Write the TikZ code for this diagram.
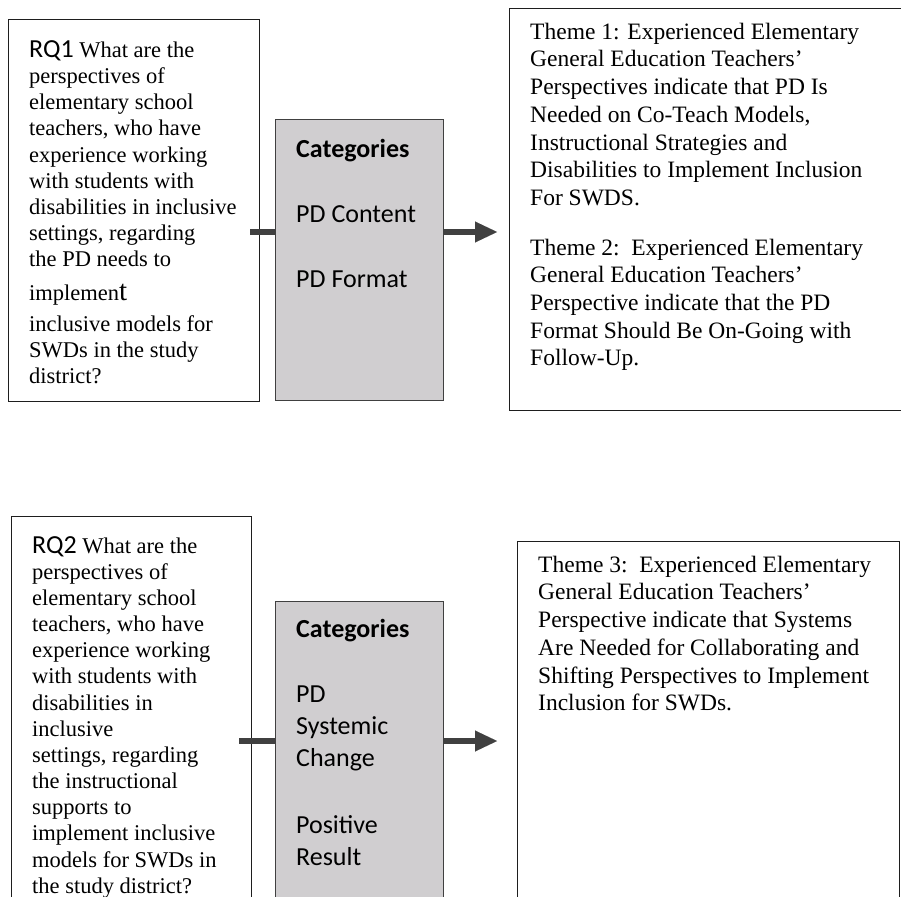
\documentclass[tikz,border=0pt]{standalone}
\usepackage{fontspec}
\setmainfont{Liberation Serif}
\newfontfamily\calib{Carlito}
\usetikzlibrary{arrows.meta}
\definecolor{catfill}{RGB}{208,206,208}
\definecolor{arrowgray}{RGB}{64,64,64}
\definecolor{boxline}{RGB}{30,30,30}
\begin{document}
\begin{tikzpicture}[x=1pt,y=-1pt,
  qbox/.style={draw=boxline, line width=1pt, fill=white, anchor=north west, inner sep=0pt},
  catbox/.style={draw=black!75, line width=1pt, fill=catfill, anchor=north west, inner sep=0pt},
  rqtext/.style={anchor=north west, inner sep=0pt, align=left, font=\fontsize{22.5}{26.2}\selectfont},
  thtext/.style={anchor=north west, inner sep=0pt, align=left, font=\fontsize{23.5}{27.7}\selectfont},
  cattext/.style={anchor=north west, inner sep=0pt, align=left, font=\calib\fontsize{26}{32}\selectfont},
  conn/.style={draw=arrowgray, line width=6.5pt},
  arr/.style={conn, -{Triangle[length=22pt,width=21pt,line width=0.01pt]}}
]
\useasboundingbox (0,0) rectangle (901,896);
\clip (0,0) rectangle (901,896);

% boxes
\node[qbox, minimum width=251pt, minimum height=382pt] (rq1) at (8,19) {};
\node[catbox, minimum width=168pt, minimum height=281pt] (cat1) at (275,119) {};
\node[qbox, minimum width=420pt, minimum height=402pt] (th1) at (509,8) {};
\node[qbox, minimum width=240pt, minimum height=420pt] (rq2) at (11,516) {};
\node[catbox, minimum width=168pt, minimum height=340pt] (cat2) at (275,601) {};
\node[qbox, minimum width=382pt, minimum height=400pt] (th3) at (517,541) {};

% texts
\node[rqtext] (rq1t) at (29,37) {\rule{0pt}{20pt}{\calib\fontsize{26}{26}\selectfont RQ1} What are the\\
perspectives of\\
elementary school\\
teachers, who have\\
experience working\\
with students with\\
disabilities in inclusive\\
settings, regarding\\
the PD needs to\\[7pt]
implemen{\fontsize{29}{29}\selectfont t}\\[5pt]
inclusive models for\\
SWDs in the study\\
district?};

\node[cattext] (cat1t) at (296,135) {\rule{0pt}{22pt}\textbf{Categories}\\[33pt]
PD Content\\[33pt]
PD Format};

\node[thtext] (th1t) at (530,18) {\rule{0pt}{21pt}Theme 1: Experienced Elementary\\
General Education Teachers’\\
Perspectives indicate that PD Is\\
Needed on Co-Teach Models,\\
Instructional Strategies and\\
Disabilities to Implement Inclusion\\
For SWDS.\\[22pt]
Theme 2:\ \ Experienced Elementary\\
General Education Teachers’\\
Perspective indicate that the PD\\
Format Should Be On-Going with\\
Follow-Up.};

\node[rqtext, font=\fontsize{22.5}{26.15}\selectfont] (rq2t) at (32,533) {\rule{0pt}{20pt}{\calib\fontsize{26}{26}\selectfont RQ2} What are the\\
perspectives of\\
elementary school\\
teachers, who have\\
experience working\\
with students with\\
disabilities in\\
inclusive\\
settings, regarding\\
the instructional\\
supports to\\
implement inclusive\\
models for SWDs in\\
the study district?};

\node[cattext] (cat2t) at (296,615) {\rule{0pt}{22pt}\textbf{Categories}\\[33pt]
PD\\
Systemic\\
Change\\[35pt]
Positive\\
Result};

\node[thtext] (th3t) at (538,551) {\rule{0pt}{21pt}Theme 3:\ \ Experienced Elementary\\
General Education Teachers’\\
Perspective indicate that Systems\\
Are Needed for Collaborating and\\
Shifting Perspectives to Implement\\
Inclusion for SWDs.};

% connectors
\coordinate (s1) at (250,232);
\coordinate (e1) at (497,232);
\draw[conn] (s1) -- (s1 -| cat1.west);
\draw[arr] (cat1.east |- e1) -- (e1);
\coordinate (s2) at (239,741);
\coordinate (e2) at (497,741);
\draw[conn] (s2) -- (s2 -| cat2.west);
\draw[arr] (cat2.east |- e2) -- (e2);
\end{tikzpicture}
\end{document}
